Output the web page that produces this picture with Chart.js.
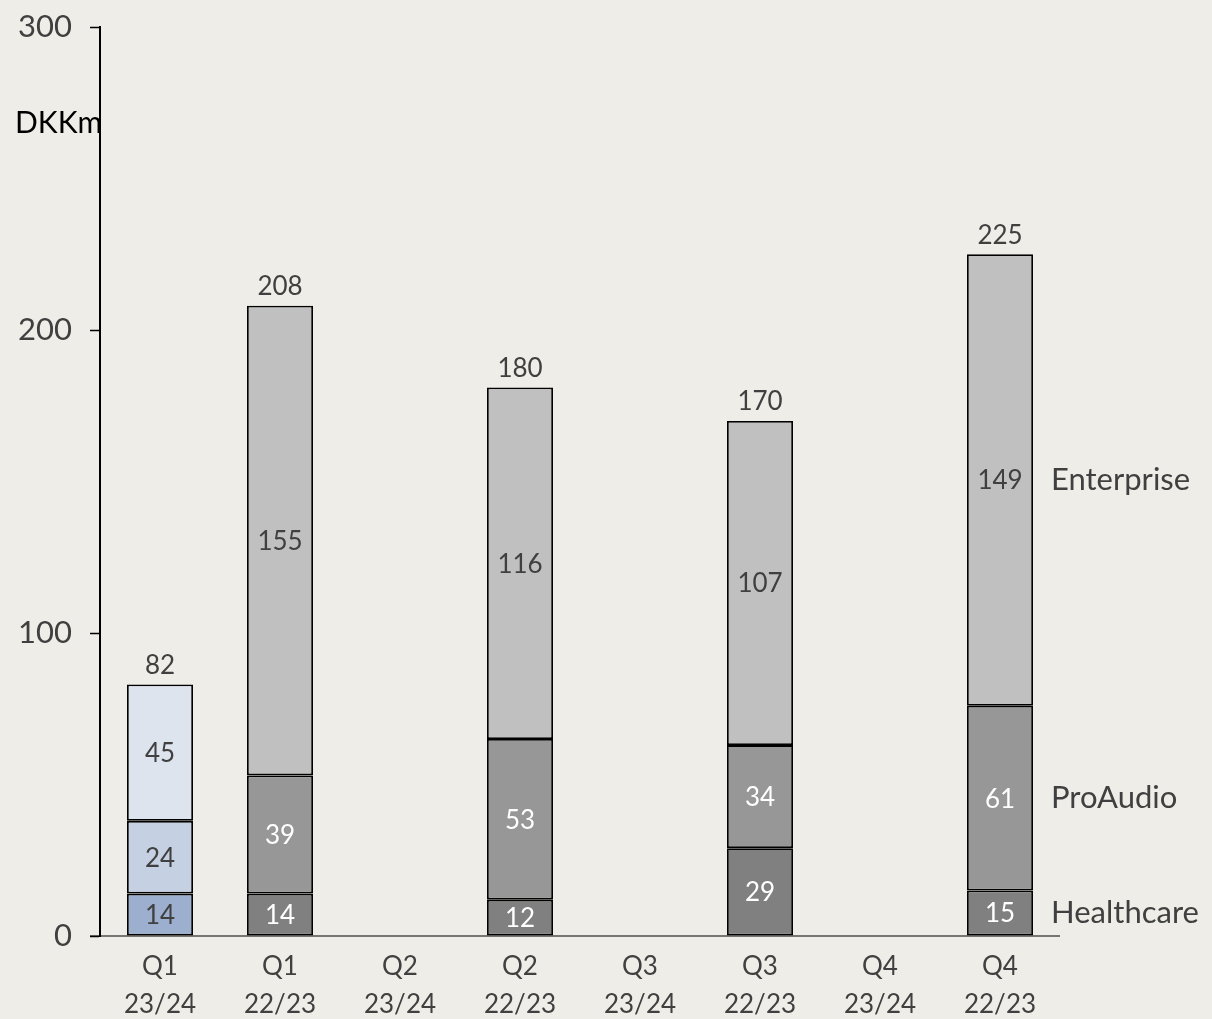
<!DOCTYPE html>
<html><head><meta charset="utf-8">
<script src="https://cdn.jsdelivr.net/npm/chart.js@4.4.0/dist/chart.umd.min.js"></script>
<style>html,body{margin:0;padding:0;background:#EEEDE8;}canvas{display:block;}</style>
</head><body>
<canvas id="c" width="1212" height="1019"></canvas>
<script>
const categories = [["Q1","23/24"],["Q1","22/23"],["Q2","23/24"],["Q2","22/23"],["Q3","23/24"],["Q3","22/23"],["Q4","23/24"],["Q4","22/23"]];
const healthcare = [14, 14, null, 12, null, 29, null, 15];
const proAudio   = [24, 39, null, 53, null, 34, null, 61];
const enterprise = [45, 155, null, 116, null, 107, null, 149];
const totals     = [82, 208, null, 180, null, 170, null, 225];
const yTicks = [0, 100, 200, 300];
const seriesNames = ["Healthcare", "ProAudio", "Enterprise"];
const unitLabel = "DKKm";

const FONT = "Lato, 'Open Sans', sans-serif";
const TXT = "#404040";
const cur = {h:"#9DAFCE", p:"#C5D0E2", e:"#DEE4EE"};
const prev = {h:"#808080", p:"#979797", e:"#C0C0C0"};
const col = (k) => categories.map((c,i) => i === 0 ? cur[k] : prev[k]);

const labelsPlugin = {
  id: 'labels',
  afterDatasetsDraw(chart) {
    const ctx = chart.ctx;
    ctx.save();
    ctx.textAlign = 'center';
    ctx.textBaseline = 'middle';
    ctx.font = "26px " + FONT;
    chart.data.datasets.forEach((ds, di) => {
      const meta = chart.getDatasetMeta(di);
      meta.data.forEach((el, i) => {
        const v = ds.data[i];
        if (v == null) return;
        const mid = (el.y + el.base) / 2;
        ctx.fillStyle = (i === 0 || di === 2) ? TXT : "#FFFFFF";
        ctx.fillText(String(v), el.x, mid + 1);
      });
    });
    const topMeta = chart.getDatasetMeta(2);
    totals.forEach((t, i) => {
      if (t == null) return;
      const el = topMeta.data[i];
      ctx.fillStyle = TXT;
      ctx.fillText(String(t), el.x, el.y - 19);
    });
    ctx.textAlign = 'left';
    ctx.font = "31px " + FONT;
    ctx.fillStyle = TXT;
    const last = categories.length - 1;
    chart.data.datasets.forEach((ds, di) => {
      const el = chart.getDatasetMeta(di).data[last];
      const mid = (el.y + el.base) / 2;
      ctx.fillText(seriesNames[di], el.x + el.width / 2 + 18, mid);
    });
    ctx.fillStyle = "#000000";
    ctx.font = "30px " + FONT;
    ctx.fillText(unitLabel, 15, 123);
    const ca = chart.chartArea;
    const y0 = chart.scales.y.getPixelForValue(0);
    ctx.strokeStyle = "#000";
    ctx.lineWidth = 1.2;
    ctx.beginPath();
    ctx.moveTo(ca.left - 10, y0);
    ctx.lineTo(ca.right, y0);
    ctx.stroke();
    ctx.restore();
  }
};

new Chart(document.getElementById('c'), {
  type: 'bar',
  data: {
    labels: categories,
    datasets: [
      {label: seriesNames[0], data: healthcare, backgroundColor: col('h')},
      {label: seriesNames[1], data: proAudio, backgroundColor: col('p')},
      {label: seriesNames[2], data: enterprise, backgroundColor: col('e')}
    ].map(d => Object.assign(d, {borderColor:"#000", borderWidth:1.8, borderSkipped:false, categoryPercentage:1, barPercentage:0.55}))
  },
  options: {
    responsive: false,
    animation: false,
    devicePixelRatio: 1,
    layout: {padding: {top: 27, right: 152, left: 0, bottom: 0}},
    plugins: {legend: {display: false}, tooltip: {enabled: false}},
    scales: {
      x: {
        stacked: true,
        grid: {display: false, drawTicks: false},
        border: {display: false},
        ticks: {color: TXT, font: {family: FONT, size: 26, lineHeight: 1.45}, padding: 12, maxRotation: 0, autoSkip: false},
        afterFit(s) { s.height = 83; s.paddingLeft = 0; s.paddingRight = 0; }
      },
      y: {
        stacked: true,
        min: 0, max: 300,
        afterBuildTicks(s) { s.ticks = yTicks.map(v => ({value: v})); },
        grid: {drawOnChartArea: false, drawTicks: true, tickLength: 10, tickColor: "#000", tickWidth: 1.5},
        border: {display: true, color: "#000", width: 2},
        ticks: {color: TXT, font: {family: FONT, size: 31}, padding: 18},
        afterFit(s) { s.width = 100; s.paddingTop = 0; s.paddingBottom = 0; }
      }
    }
  },
  plugins: [labelsPlugin]
});
</script>
</body></html>
